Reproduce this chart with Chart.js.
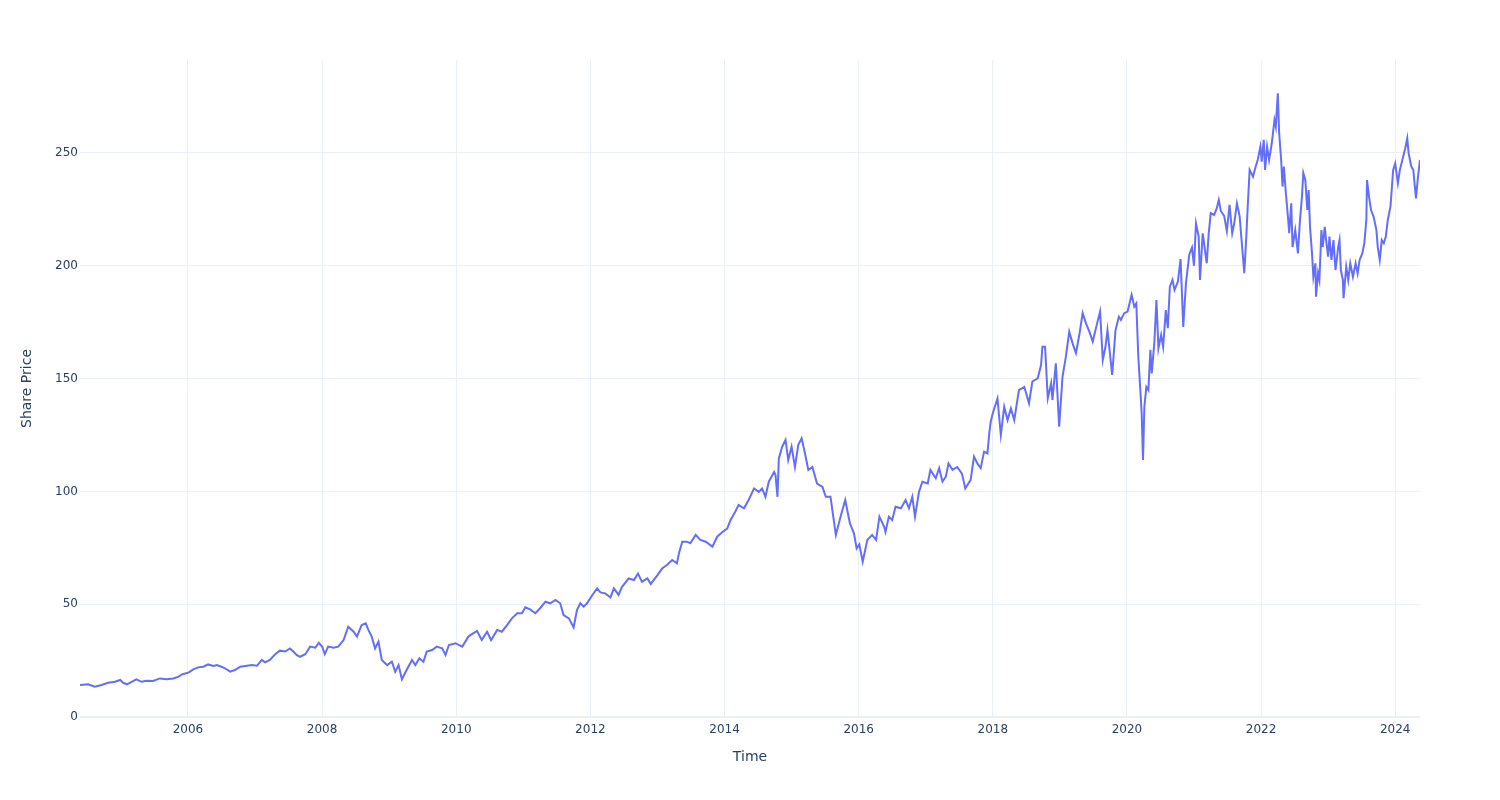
<!DOCTYPE html>
<html>
<head>
<meta charset="utf-8">
<title>Share Price</title>
<script src="https://cdn.jsdelivr.net/npm/chart.js@4.4.1/dist/chart.umd.min.js"></script>
<style>
  body { margin: 0; background: #fff; }
  #wrap { width: 1500px; height: 800px; }
</style>
</head>
<body>
<div id="wrap"><canvas id="priceChart" width="1500" height="800"></canvas></div>
<script>
// time in decimal years
const years = [
  2004.39, 2004.51, 2004.61, 2004.71, 2004.81, 2004.91, 2004.99, 2005.03, 2005.09, 2005.16,
  2005.23, 2005.31, 2005.38, 2005.48, 2005.58, 2005.68, 2005.78, 2005.86, 2005.91, 2006.00,
  2006.08, 2006.15, 2006.23, 2006.30, 2006.38, 2006.43, 2006.50, 2006.55, 2006.63, 2006.70,
  2006.78, 2006.88, 2006.95, 2007.03, 2007.10, 2007.15, 2007.22, 2007.30, 2007.37, 2007.45,
  2007.52, 2007.57, 2007.62, 2007.67, 2007.75, 2007.82, 2007.90, 2007.95, 2008.00, 2008.04,
  2008.09, 2008.17, 2008.24, 2008.32, 2008.39, 2008.47, 2008.52, 2008.59, 2008.65, 2008.69,
  2008.74, 2008.79, 2008.84, 2008.89, 2008.97, 2009.04, 2009.09, 2009.14, 2009.19, 2009.26,
  2009.34, 2009.39, 2009.45, 2009.51, 2009.56, 2009.64, 2009.71, 2009.79, 2009.84, 2009.89,
  2009.99, 2010.09, 2010.18, 2010.21, 2010.31, 2010.38, 2010.46, 2010.52, 2010.61, 2010.68,
  2010.76, 2010.83, 2010.91, 2010.98, 2011.03, 2011.10, 2011.18, 2011.25, 2011.33, 2011.40,
  2011.48, 2011.55, 2011.60, 2011.68, 2011.75, 2011.80, 2011.85, 2011.90, 2011.95, 2012.03,
  2012.10, 2012.15, 2012.22, 2012.30, 2012.35, 2012.42, 2012.47, 2012.57, 2012.65, 2012.71,
  2012.77, 2012.85, 2012.90, 2013.00, 2013.07, 2013.14, 2013.22, 2013.29, 2013.32, 2013.37,
  2013.44, 2013.49, 2013.57, 2013.64, 2013.72, 2013.82, 2013.89, 2013.97, 2014.04, 2014.09,
  2014.16, 2014.21, 2014.29, 2014.36, 2014.44, 2014.51, 2014.56, 2014.61, 2014.66, 2014.74,
  2014.76, 2014.79, 2014.81, 2014.86, 2014.91, 2014.95, 2015.00, 2015.05, 2015.10, 2015.15,
  2015.20, 2015.25, 2015.31, 2015.38, 2015.46, 2015.51, 2015.58, 2015.66, 2015.73, 2015.80,
  2015.87, 2015.93, 2015.97, 2016.01, 2016.06, 2016.13, 2016.20, 2016.26, 2016.31, 2016.38,
  2016.40, 2016.45, 2016.50, 2016.55, 2016.63, 2016.70, 2016.75, 2016.80, 2016.84, 2016.90,
  2016.95, 2017.03, 2017.07, 2017.15, 2017.20, 2017.25, 2017.30, 2017.34, 2017.40, 2017.47,
  2017.54, 2017.59, 2017.67, 2017.72, 2017.77, 2017.82, 2017.87, 2017.92, 2017.95, 2017.97,
  2018.00, 2018.07, 2018.12, 2018.17, 2018.22, 2018.27, 2018.32, 2018.39, 2018.47, 2018.54,
  2018.59, 2018.67, 2018.72, 2018.74, 2018.78, 2018.82, 2018.87, 2018.89, 2018.94, 2018.99,
  2019.04, 2019.09, 2019.14, 2019.19, 2019.24, 2019.29, 2019.34, 2019.39, 2019.44, 2019.49,
  2019.55, 2019.60, 2019.64, 2019.68, 2019.71, 2019.78, 2019.83, 2019.88, 2019.91, 2019.96,
  2020.01, 2020.07, 2020.11, 2020.14, 2020.17, 2020.20, 2020.22, 2020.24, 2020.26, 2020.29,
  2020.32, 2020.35, 2020.37, 2020.41, 2020.44, 2020.47, 2020.51, 2020.54, 2020.58, 2020.61,
  2020.64, 2020.68, 2020.71, 2020.76, 2020.80, 2020.84, 2020.88, 2020.93, 2020.97, 2021.00,
  2021.03, 2021.07, 2021.09, 2021.13, 2021.15, 2021.19, 2021.22, 2021.25, 2021.30, 2021.34,
  2021.37, 2021.40, 2021.45, 2021.49, 2021.53, 2021.57, 2021.60, 2021.64, 2021.68, 2021.73,
  2021.75, 2021.78, 2021.80, 2021.83, 2021.88, 2021.92, 2021.95, 2021.99, 2022.01, 2022.04,
  2022.06, 2022.09, 2022.12, 2022.16, 2022.20, 2022.22, 2022.25, 2022.27, 2022.30, 2022.32,
  2022.34, 2022.37, 2022.40, 2022.42, 2022.45, 2022.47, 2022.51, 2022.55, 2022.58, 2022.61,
  2022.63, 2022.66, 2022.69, 2022.71, 2022.73, 2022.76, 2022.78, 2022.81, 2022.82, 2022.85,
  2022.87, 2022.90, 2022.92, 2022.95, 2022.97, 2023.00, 2023.02, 2023.05, 2023.08, 2023.11,
  2023.15, 2023.17, 2023.19, 2023.22, 2023.23, 2023.27, 2023.30, 2023.33, 2023.37, 2023.41,
  2023.44, 2023.47, 2023.51, 2023.54, 2023.57, 2023.58, 2023.61, 2023.64, 2023.68, 2023.72,
  2023.74, 2023.77, 2023.80, 2023.83, 2023.86, 2023.89, 2023.93, 2023.97, 2024.00, 2024.04,
  2024.07, 2024.12, 2024.15, 2024.18, 2024.20, 2024.24, 2024.27, 2024.31, 2024.34, 2024.37
];

const prices = [
  14.2, 14.5, 13.4, 14.2, 15.2, 15.6, 16.4, 15.2, 14.5, 15.6,
  16.7, 15.6, 16.1, 16.0, 17.1, 16.7, 17.1, 17.9, 18.9, 19.6,
  21.1, 22.0, 22.3, 23.3, 22.6, 23.0, 22.3, 21.6, 20.1, 20.8,
  22.3, 22.7, 23.0, 22.7, 25.3, 24.2, 25.3, 27.8, 29.4, 29.0,
  30.4, 29.0, 27.5, 26.7, 27.8, 31.2, 30.7, 32.9, 31.2, 27.9,
  31.2, 30.7, 31.2, 34.1, 40.0, 37.8, 35.6, 40.8, 41.5, 38.6,
  35.6, 30.4, 33.4, 25.3, 23.0, 24.5, 20.1, 23.0, 16.7, 20.8,
  25.3, 23.0, 26.0, 24.5, 29.0, 29.7, 31.2, 30.4, 27.5, 31.9,
  32.7, 31.2, 35.6, 36.3, 38.2, 34.1, 37.8, 34.1, 38.6, 37.8,
  40.8, 43.7, 46.0, 46.0, 48.6, 47.7, 46.0, 48.2, 51.1, 50.4,
  51.9, 50.4, 45.2, 43.7, 39.7, 47.4, 50.4, 48.9, 50.4, 54.1,
  57.0, 55.2, 54.8, 53.0, 57.0, 54.1, 57.6, 61.4, 60.7, 63.6,
  59.9, 61.4, 59.0, 62.9, 65.8, 67.4, 69.6, 68.1, 72.5, 77.7,
  77.7, 77.0, 80.7, 78.5, 77.7, 75.5, 79.9, 82.0, 83.5, 87.3,
  91.0, 94.0, 92.5, 96.2, 101.3, 99.8, 101.3, 97.6, 104.3, 108.6,
  107.3, 97.6, 114.6, 119.8, 122.8, 113.9, 119.8, 110.8, 120.6, 123.5,
  116.8, 109.5, 110.8, 103.5, 102.0, 97.6, 97.6, 80.7, 88.8, 96.2,
  85.8, 81.4, 74.7, 76.5, 68.8, 78.5, 80.7, 78.5, 88.8, 84.3,
  82.0, 88.8, 87.3, 93.2, 92.5, 96.2, 92.5, 97.6, 88.8, 99.8,
  104.3, 103.5, 109.5, 105.8, 110.3, 104.3, 106.5, 112.4, 109.5, 110.8,
  107.9, 101.3, 105.1, 115.4, 112.4, 110.3, 117.6, 116.8, 126.4, 131.0,
  134.6, 141.2, 125.0, 137.5, 131.6, 136.8, 131.6, 144.9, 146.3, 139.0,
  148.7, 150.1, 156.0, 164.1, 164.1, 141.2, 147.9, 140.5, 156.8, 128.7,
  150.9, 159.7, 170.8, 165.6, 161.3, 169.3, 179.0, 174.5, 170.8, 166.4,
  173.8, 179.7, 158.2, 164.1, 171.5, 151.6, 171.5, 177.4, 176.0, 179.0,
  179.7, 187.1, 181.9, 183.3, 159.7, 144.9, 134.6, 113.9, 137.5, 146.3,
  144.9, 162.7, 152.3, 166.4, 184.8, 163.4, 169.3, 164.1, 180.4, 172.3,
  190.7, 193.7, 189.3, 193.0, 203.0, 172.9, 192.2, 205.0, 208.0, 200.0,
  218.8, 212.9, 193.7, 214.4, 210.0, 201.1, 214.4, 223.3, 222.5, 225.5,
  229.2, 224.3, 222.1, 215.4, 227.0, 214.4, 218.8, 227.7, 222.1, 204.0,
  196.7, 212.9, 225.5, 242.5, 239.5, 244.0, 246.9, 252.8, 246.1, 255.8,
  242.5, 252.8, 246.9, 254.3, 264.6, 261.7, 276.4, 258.8, 246.9, 235.1,
  244.0, 232.1, 222.1, 214.4, 227.7, 208.3, 215.8, 205.5, 220.0, 230.6,
  241.1, 238.0, 224.7, 233.6, 217.3, 205.5, 195.1, 201.1, 186.3, 196.7,
  193.7, 215.8, 208.3, 217.3, 211.4, 204.0, 212.9, 202.6, 211.4, 198.1,
  208.3, 211.4, 198.1, 193.7, 185.6, 199.6, 193.7, 201.1, 195.1, 201.1,
  196.7, 202.6, 205.5, 210.0, 220.3, 238.0, 230.6, 224.7, 221.6, 215.8,
  208.3, 202.6, 211.4, 210.0, 212.9, 220.3, 226.3, 242.5, 245.4, 236.6,
  242.5, 248.4, 252.1, 256.5, 249.9, 244.0, 242.5, 229.9, 239.5, 246.9
];

const yearTicks = [2006, 2008, 2010, 2012, 2014, 2016, 2018, 2020, 2022, 2024];
const priceTicks = [0, 50, 100, 150, 200, 250];

document.addEventListener("DOMContentLoaded", () => {
  const ctx = document.getElementById("priceChart").getContext("2d");
  const points = years.map((t, i) => ({ x: t, y: prices[i] }));
  const textColor = "#2a3f5f";
  const gridColor = "#EBF0F8";
  const family = "'DejaVu Sans', verdana, arial, sans-serif";

  new Chart(ctx, {
    type: "line",
    data: {
      datasets: [
        {
          data: points,
          borderColor: "#636efa",
          borderWidth: 2,
          pointRadius: 0,
          tension: 0,
          fill: false,
        },
      ],
    },
    options: {
      responsive: false,
      animation: false,
      layout: { padding: { left: 0, right: 80, top: 60, bottom: 0 } },
      plugins: {
        legend: { display: false },
        tooltip: { enabled: false },
      },
      scales: {
        x: {
          type: "linear",
          min: 2004.39,
          max: 2024.37,
          afterBuildTicks: (scale) => {
            scale.ticks = yearTicks.map((v) => ({ value: v }));
          },
          afterFit: (scale) => {
            scale.height = 83;
          },
          grid: { color: gridColor, drawTicks: false },
          border: { display: false },
          ticks: {
            color: textColor,
            font: { family, size: 12 },
            padding: 6,
            maxRotation: 0,
            callback: (v) => String(v),
          },
          title: {
            display: true,
            text: "Time",
            color: textColor,
            font: { family, size: 14 },
            padding: { top: 0, bottom: 34 },
          },
        },
        y: {
          min: 0,
          max: 291.2,
          afterBuildTicks: (scale) => {
            scale.ticks = priceTicks.map((v) => ({ value: v }));
          },
          afterFit: (scale) => {
            scale.width = 80;
          },
          grid: {
            color: gridColor,
            drawTicks: false,
            lineWidth: (c) => (c.tick && c.tick.value === 0 ? 2 : 1),
          },
          border: { display: false },
          ticks: {
            color: textColor,
            font: { family, size: 12 },
            padding: 2,
            callback: (v) => String(v),
          },
          title: {
            display: true,
            text: "Share Price",
            color: textColor,
            font: { family, size: 14 },
            padding: { top: 19, bottom: 0 },
          },
        },
      },
    },
  });
});
</script>
</body>
</html>
